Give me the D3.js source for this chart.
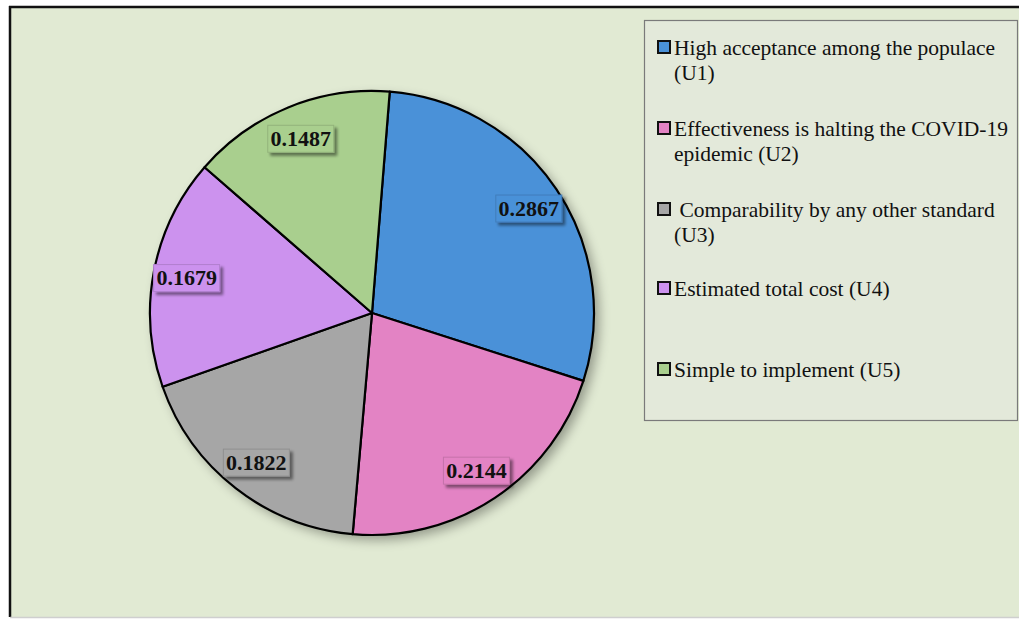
<!DOCTYPE html>
<html><head><meta charset="utf-8">
<script src="https://cdn.jsdelivr.net/npm/d3@7/dist/d3.min.js"></script>
<style>html,body{margin:0;padding:0;background:#fff;}svg{display:block;}
.serif{font-family:'Liberation Serif','Times New Roman',Times,'DejaVu Serif',serif;}</style>
</head><body>
<svg id="c" width="1019" height="619"></svg>
<script>
const categories = ["High acceptance among the populace (U1)","Effectiveness is halting the COVID-19 epidemic (U2)"," Comparability by any other standard (U3)","Estimated total cost (U4)","Simple to implement (U5)"];
const legendLines = [["High acceptance among the populace","(U1)"],["Effectiveness is halting the COVID-19","epidemic (U2)"],[" Comparability by any other standard","(U3)"],["Estimated total cost (U4)"],["Simple to implement (U5)"]];
const values = [0.2867, 0.2144, 0.1822, 0.1679, 0.1487];
const labels = ["0.2867","0.2144","0.1822","0.1679","0.1487"];
const colors = ["#4a91d8","#e383c4","#a6a6a6","#cc92ee","#a9cf8e"];

const svg = d3.select("#c");
const defs = svg.append("defs");
const f = defs.append("filter").attr("id","sh").attr("x","-20%").attr("y","-20%").attr("width","150%").attr("height","150%");
f.append("feGaussianBlur").attr("in","SourceAlpha").attr("stdDeviation",6).attr("result","b");
f.append("feOffset").attr("in","b").attr("dx",5).attr("dy",5).attr("result","o");
f.append("feComponentTransfer").attr("in","o").attr("result","o2").append("feFuncA").attr("type","linear").attr("slope",0.35);
const fm = f.append("feMerge"); fm.append("feMergeNode").attr("in","o2"); fm.append("feMergeNode").attr("in","SourceGraphic");
const f2 = defs.append("filter").attr("id","sh2").attr("x","-20%").attr("y","-30%").attr("width","150%").attr("height","170%");
f2.append("feGaussianBlur").attr("in","SourceAlpha").attr("stdDeviation",1.5).attr("result","b");
f2.append("feOffset").attr("in","b").attr("dx",3).attr("dy",3).attr("result","o");
f2.append("feComponentTransfer").attr("in","o").attr("result","o2").append("feFuncA").attr("type","linear").attr("slope",0.45);
const fm2 = f2.append("feMerge"); fm2.append("feMergeNode").attr("in","o2"); fm2.append("feMergeNode").attr("in","SourceGraphic");

// frame
svg.append("rect").attr("x",10).attr("y",7).attr("width",1015).attr("height",610).attr("fill","#e1ead3");
svg.append("line").attr("x1",9).attr("x2",1019).attr("y1",7).attr("y2",7).attr("stroke","#111").attr("stroke-width",2.5);
svg.append("line").attr("x1",10).attr("x2",10).attr("y1",6).attr("y2",617).attr("stroke","#111").attr("stroke-width",2.5);
svg.append("line").attr("x1",10).attr("x2",1019).attr("y1",617.5).attr("y2",617.5).attr("stroke","#cfcfcf").attr("stroke-width",1.5);

// pie
const cx = 372, cy = 313, R = 222;
const pie = d3.pie().sort(null).startAngle(0.08).endAngle(0.08 + 2*Math.PI).value(d => d);
const arcs = pie(values);
const arc = d3.arc().innerRadius(0).outerRadius(R);
const lab = d3.arc().innerRadius(R*0.85).outerRadius(R*0.85);
const g = svg.append("g").attr("transform",`translate(${cx},${cy})`);
g.append("circle").attr("r",R).attr("fill","#e1ead3").attr("filter","url(#sh)");
g.selectAll("path").data(arcs).join("path").attr("d",arc).attr("fill",(d,i)=>colors[i]).attr("stroke","#000").attr("stroke-width",2.2).attr("stroke-linejoin","round");

const lg = g.selectAll("g.l").data(arcs).join("g").attr("class","l").attr("transform",d=>`translate(${lab.centroid(d)})`);
lg.append("rect").attr("x",-33).attr("y",-13).attr("width",66).attr("height",27).attr("fill",(d,i)=>colors[i]).attr("stroke",(d,i)=>d3.color(colors[i]).darker(0.4)).attr("stroke-width",1).attr("filter","url(#sh2)");
lg.append("text").attr("class","serif").text((d,i)=>labels[i]).attr("text-anchor","middle").attr("dy","0.35em").attr("font-weight","bold").attr("font-size",22).attr("fill","#111");

// legend
svg.append("rect").attr("x",644.5).attr("y",20.5).attr("width",373).attr("height",400).attr("fill","#e3e9da").attr("stroke","#7a7a7a").attr("stroke-width",1.2);
const ly = [47, 128, 209, 288, 369];
const leg = svg.selectAll("g.lg").data(legendLines).join("g").attr("class","lg").attr("transform",(d,i)=>`translate(657,${ly[i]})`);
leg.append("rect").attr("x",1).attr("y",-6).attr("width",12).attr("height",12).attr("fill",(d,i)=>colors[i]).attr("stroke","#111").attr("stroke-width",2);
leg.each(function(d){
  const t = d3.select(this).append("text").attr("class","serif").attr("font-size",21.5).attr("fill","#111").attr("xml:space","preserve");
  d.forEach((line,j)=>{ t.append("tspan").attr("x",17).attr("y",j*25.5).attr("dy","0.35em").text(line); });
});
</script>
</body></html>
